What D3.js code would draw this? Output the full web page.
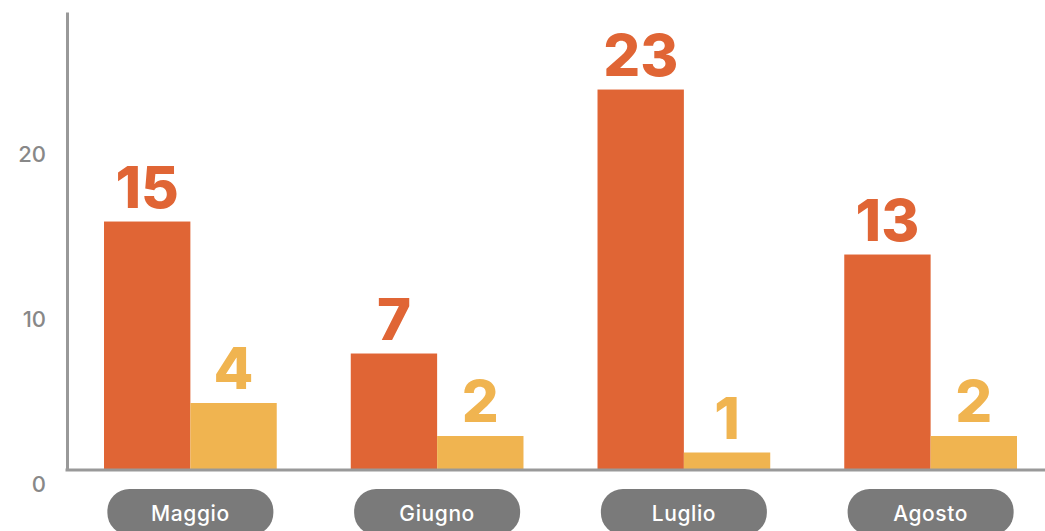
<!DOCTYPE html>
<html>
<head>
<meta charset="utf-8">
<script src="https://cdn.jsdelivr.net/npm/d3@7"></script>
<style>
  html, body { margin: 0; padding: 0; background: #fff; }
  svg { display: block; font-family: Inter, "Open Sans", sans-serif; }
</style>
</head>
<body>
<svg id="chart" width="1045" height="531"></svg>
<script>
// Monthly counts, two series per month
const months = ["Maggio", "Giugno", "Luglio", "Agosto"];
const seriesKeys = ["primary", "secondary"];
const primaryValues = [15, 7, 23, 13];
const secondaryValues = [4, 2, 1, 2];
const tickValues = [0, 10, 20];
const seriesColors = ["#E06535", "#F0B450"];

const rows = months.map((m, i) => ({
  month: m,
  values: [
    { key: seriesKeys[0], value: primaryValues[i] },
    { key: seriesKeys[1], value: secondaryValues[i] }
  ]
}));

const svg = d3.select("#chart");
const W = 1045, H = 531;
const axisX = 67;

const y = d3.scaleLinear().domain([0, 27.7]).range([469, 12]);

const x0 = d3.scaleBand()
  .domain(months)
  .range([axisX, 1054])
  .paddingInner(0.3)
  .paddingOuter(0.15);

const x1 = d3.scaleBand()
  .domain(seriesKeys)
  .range([0, x0.bandwidth()]);

const color = d3.scaleOrdinal().domain(seriesKeys).range(seriesColors);

// Bars and value labels
const groups = svg.append("g")
  .selectAll("g")
  .data(rows)
  .join("g")
  .attr("transform", d => `translate(${x0(d.month)},0)`);

groups.selectAll("rect")
  .data(d => d.values)
  .join("rect")
  .attr("x", d => x1(d.key))
  .attr("y", d => y(d.value))
  .attr("width", x1.bandwidth())
  .attr("height", d => y(0) - y(d.value))
  .attr("fill", d => color(d.key));

groups.selectAll("text.value")
  .data(d => d.values)
  .join("text")
  .attr("class", "value")
  .attr("x", d => x1(d.key) + x1.bandwidth() / 2)
  .attr("y", d => y(d.value) - 14)
  .attr("text-anchor", "middle")
  .attr("font-size", 58)
  .attr("font-weight", 800)
  .attr("fill", d => color(d.key))
  .text(d => d.value);

// Y axis
const yAxis = svg.append("g")
  .attr("transform", `translate(${axisX},0)`)
  .call(d3.axisLeft(y).tickValues(tickValues).tickSize(0).tickPadding(21).tickFormat(d3.format("d")));

yAxis.select(".domain")
  .attr("stroke", "#999")
  .attr("stroke-width", 3);

yAxis.selectAll(".tick text")
  .attr("dy", "1.02em")
  .attr("font-size", 22)
  .attr("font-weight", 500)
  .attr("font-family", "Inter, sans-serif")
  .attr("fill", "#888");

// Baseline
svg.append("line")
  .attr("x1", axisX - 1.5)
  .attr("x2", W)
  .attr("y1", y(0) + 1)
  .attr("y2", y(0) + 1)
  .attr("stroke", "#999")
  .attr("stroke-width", 3);

// Month pills
const pillW = 166, pillH = 46;
const pills = svg.append("g")
  .selectAll("g")
  .data(months)
  .join("g")
  .attr("transform", d => `translate(${x0(d) + x0.bandwidth() / 2},489)`);

pills.append("rect")
  .attr("x", -pillW / 2)
  .attr("y", 0)
  .attr("width", pillW)
  .attr("height", pillH)
  .attr("rx", 22)
  .attr("fill", "#7a7a7a");

pills.append("text")
  .attr("y", 25)
  .attr("dy", "0.35em")
  .attr("text-anchor", "middle")
  .attr("font-size", 21)
  .attr("font-weight", 500)
  .attr("letter-spacing", 0.6)
  .attr("fill", "#fff")
  .text(d => d);
</script>
</body>
</html>
